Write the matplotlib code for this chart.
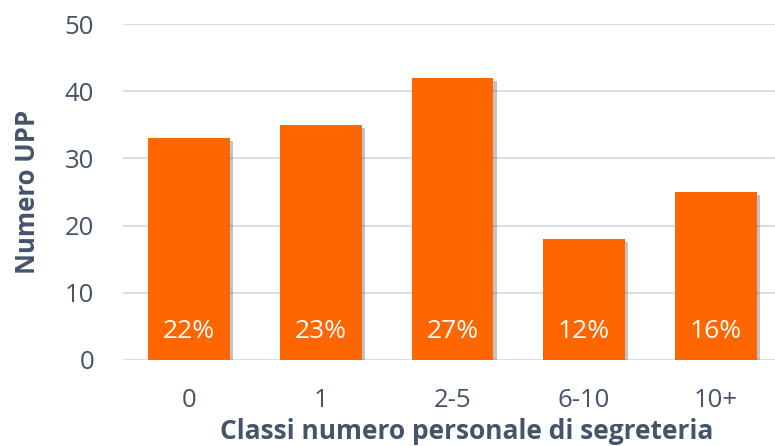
import matplotlib
matplotlib.use('Agg')
import matplotlib.pyplot as plt
import matplotlib.patheffects as pe

# dati
categorie = ['0', '1', '2-5', '6-10', '10+']
valori = [33, 35, 42, 18, 25]
percentuali = ['22%', '23%', '27%', '12%', '16%']

arancio = '#FF6600'
testo = '#44546A'
griglia = '#D9DEE4'

plt.rcParams['font.family'] = ['Open Sans', 'DejaVu Sans']

fig = plt.figure(figsize=(7.75, 4.46), dpi=100)
ax = fig.add_axes([0.159, 0.193, 0.841, 0.753])

x = list(range(len(categorie)))
bars = ax.bar(x, valori, width=0.62, color=arancio, zorder=3,
              path_effects=[pe.SimplePatchShadow(offset=(2.5, -2), alpha=0.35, shadow_rgbFace='#555555'),
                            pe.Normal()])

for xi, p in zip(x, percentuali):
    ax.text(xi, 4.3, p, ha='center', va='center', color='white', fontsize=19, zorder=4)

ax.set_ylim(0, 50)
ax.set_xlim(-0.5, 4.45)
ax.set_yticks(range(0, 51, 10))
ax.set_xticks(x)
ax.set_xticklabels(categorie)
ax.yaxis.grid(True, color=griglia, linewidth=1.5, zorder=0)
ax.set_axisbelow(True)
for s in ax.spines.values():
    s.set_visible(False)
ax.tick_params(axis='both', length=0, colors=testo, labelsize=18.5)
ax.tick_params(axis='y', pad=21)
ax.tick_params(axis='x', pad=20)

ax.set_ylabel('Numero UPP', fontsize=18.5, fontweight='bold', color=testo, va='center')
ax.yaxis.set_label_coords(-0.147, 0.5)
ax.set_xlabel('Classi numero personale di segreteria', fontsize=19, fontweight='bold', color=testo, va='center')
ax.xaxis.set_label_coords(0.527, -0.214)

fig.savefig('out.png', dpi=100)
